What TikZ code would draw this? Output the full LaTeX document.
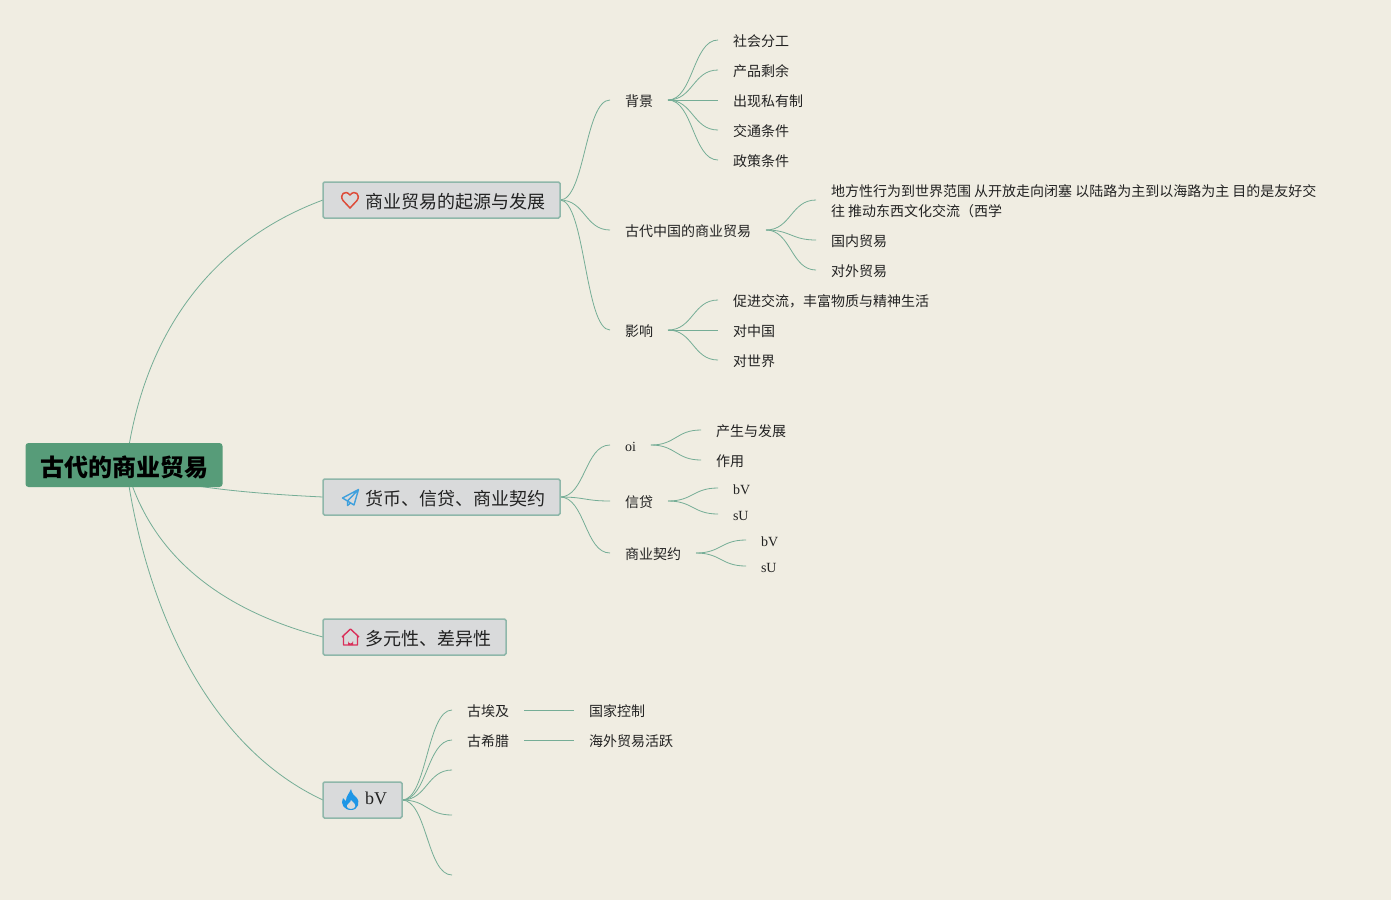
\documentclass[tikz,border=0pt]{standalone}
\usepackage{fontspec}
\setmainfont{Liberation Serif}
\newfontfamily\cjk{Noto Sans CJK SC}
\usetikzlibrary{backgrounds}
\definecolor{paper}{HTML}{F0EDE2}
\definecolor{rootgreen}{HTML}{579C79}
\definecolor{boxfill}{HTML}{D9DADB}
\definecolor{boxline}{HTML}{8FB7AA}
\definecolor{linkgreen}{HTML}{75AD96}
\definecolor{inkdark}{HTML}{222222}
\tikzset{
  rootbox/.style={fill=rootgreen,rounded corners=3pt,minimum width=197pt,minimum height=44pt,inner sep=0pt,outer sep=0pt,text height=22pt,text depth=0pt,font=\cjk\fontsize{24}{28}\selectfont\bfseries,text=black},
  topicbox/.style={draw=boxline,line width=1.5pt,fill=boxfill,rounded corners=1.5pt,anchor=west,minimum height=36pt,inner ysep=0pt,inner xsep=15pt,outer sep=0pt,text height=17pt,text depth=0pt,font=\cjk\fontsize{18}{22}\selectfont,text=inkdark},
  leaf/.style={anchor=west,inner xsep=15pt,inner ysep=0pt,outer sep=0pt,text height=14pt,text depth=1.4pt,font=\cjk\fontsize{14}{16}\selectfont,text=inkdark},
  latinleaf/.style={leaf,font=\fontsize{14}{16}\selectfont},
  branch/.style={draw=linkgreen,line width=0.8pt},
}
\begin{document}
\begin{tikzpicture}[x=1pt,y=-1pt]
  \useasboundingbox (0,0) rectangle (1391,900);
  \begin{scope}[on background layer]
    \fill[paper] (0,0) rectangle (1391,900);
  \end{scope}
  % root
  \node[rootbox] (root) at (124,465) {古代的商业贸易};
  \coordinate (hub) at (126,466);
  % main topics
  \node[topicbox] (origin) at (323,200) {\hspace{27pt}商业贸易的起源与发展};
  \node[topicbox] (money) at (323,497) {\hspace{27pt}货币、信贷、商业契约};
  \node[topicbox] (variety) at (323,637) {\hspace{27pt}多元性、差异性};
  \node[topicbox,text height=10pt,text depth=2pt,font=\fontsize{18}{22}\selectfont] (fire) at (323,800) {\hspace{27pt}bV};
  % icons
  \draw[color={rgb,255:red,221;green,75;blue,57},line width=1.5pt,line join=round] (350,208) -- (343,200.5) .. controls (339,195) and (345,189) .. (350,195) .. controls (355,189) and (361,195) .. (357,200.5) -- cycle;
  \draw[color={rgb,255:red,63;green,160;blue,221},line width=1.4pt,line join=round] (358.5,489.5) -- (342.5,498) -- (347.5,501) -- (358.5,489.5) -- (354,505) -- (347.5,501) -- (347.5,505.5) -- (350.5,503);
  \draw[color={rgb,255:red,217;green,48;blue,90},line width=1.4pt,line join=round] (342,637) -- (350.5,629) -- (359,637) (343.5,636) -- (343.5,645) -- (357.5,645) -- (357.5,636);
  \fill[color={rgb,255:red,217;green,48;blue,90}] (348,645) -- (348,641) arc (180:0:2.5) -- (353,645) -- cycle;
  \fill[color={rgb,255:red,30;green,150;blue,230}] (351,789) .. controls (352,794) and (354,795) .. (356,797) .. controls (361,802) and (358,810) .. (351,810) .. controls (344,810) and (340,804) .. (343,798) .. controls (344,800) and (345,800) .. (346,801) .. controls (346,796) and (349,794) .. (351,789) -- cycle;
  \fill[boxfill] (351,800) .. controls (351,803) and (346,804) .. (347,807) .. controls (348,809.5) and (354,809.5) .. (355,807) .. controls (356,804) and (353,802) .. (351,800) -- cycle;
  % origin children
  \node[leaf] (bg) at (610,100) {背景};
  \node[leaf] (ancient) at (610,230) {古代中国的商业贸易};
  \node[leaf] (impact) at (610,330) {影响};
  \node[leaf] (bg1) at (718,40) {社会分工};
  \node[leaf] (bg2) at (718,70) {产品剩余};
  \node[leaf] (bg3) at (718,100) {出现私有制};
  \node[leaf] (bg4) at (718,130) {交通条件};
  \node[leaf] (bg5) at (718,160) {政策条件};
  \node[anchor=west,inner xsep=15pt,inner ysep=0pt,outer sep=0pt,align=left,font=\cjk\fontsize{14}{20}\selectfont,text=inkdark] (ancient1) at (816,201) {地方性行为到世界范围 从开放走向闭塞 以陆路为主到以海路为主 目的是友好交\\往 推动东西文化交流（西学};
  \coordinate (ancient1in) at (816,200);
  \node[leaf] (ancient2) at (816,240) {国内贸易};
  \node[leaf] (ancient3) at (816,270) {对外贸易};
  \node[leaf] (impact1) at (718,300) {促进交流，丰富物质与精神生活};
  \node[leaf] (impact2) at (718,330) {对中国};
  \node[leaf] (impact3) at (718,360) {对世界};
  % money children
  \node[latinleaf] (oi) at (610,445) {oi};
  \node[leaf] (credit) at (610,501) {信贷};
  \node[leaf] (contract) at (610,553) {商业契约};
  \node[leaf] (oi1) at (701,430) {产生与发展};
  \node[leaf] (oi2) at (701,460) {作用};
  \node[latinleaf] (credit1) at (718,488) {bV};
  \node[latinleaf] (credit2) at (718,514) {sU};
  \node[latinleaf] (contract1) at (746,540) {bV};
  \node[latinleaf] (contract2) at (746,566) {sU};
  % fire children
  \node[leaf] (egypt) at (452,710) {古埃及};
  \node[leaf] (greece) at (452,740) {古希腊};
  \node[leaf] (egypt1) at (574,710) {国家控制};
  \node[leaf] (greece1) at (574,740) {海外贸易活跃};
  \coordinate (blank1) at (452,770);
  \coordinate (blank2) at (452,815);
  \coordinate (blank3) at (452,875);
  % connectors
  \begin{scope}[on background layer]
    \draw[branch] (hub) .. controls (143,330) and (215,240) .. (origin.west);
    \draw[branch] (hub) .. controls (160,487) and (260,494) .. (money.west);
    \draw[branch] (hub) .. controls (150,555) and (220,610) .. (variety.west);
    \draw[branch] (hub) .. controls (147,620) and (215,750) .. (fire.west);
    \foreach \parent/\child in {origin/bg,origin/ancient,origin/impact,bg/bg1,bg/bg2,bg/bg3,bg/bg4,bg/bg5,ancient/ancient2,ancient/ancient3,impact/impact1,impact/impact2,impact/impact3,money/oi,money/credit,money/contract,oi/oi1,oi/oi2,credit/credit1,credit/credit2,contract/contract1,contract/contract2,fire/egypt,fire/greece,egypt/egypt1,greece/greece1}
      \draw[branch] (\parent.east) to[out=0,in=180,distance=25pt] (\child.west);
    \draw[branch] (ancient.east) to[out=0,in=180,distance=25pt] (ancient1in);
    \foreach \blank in {blank1,blank2,blank3}
      \draw[branch] (fire.east) to[out=0,in=180,distance=25pt] (\blank);
  \end{scope}
\end{tikzpicture}
\end{document}
